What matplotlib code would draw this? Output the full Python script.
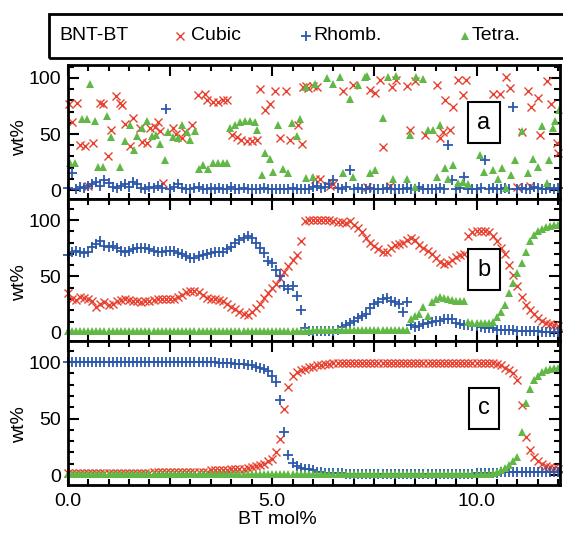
import numpy as np
import matplotlib
matplotlib.use("Agg")
import matplotlib.pyplot as plt
from matplotlib.ticker import MultipleLocator, FuncFormatter
from matplotlib.patches import Rectangle
from matplotlib.lines import Line2D

plt.rcParams['font.family'] = ['Liberation Sans', 'DejaVu Sans']

# ---------------- data ----------------
# composition grid (BT mol%) of the dense series
bt_mol = np.round(np.arange(121) * 0.1, 1)

# panel a : scattered refinement results
cubic_a_x = [0.02, 0.10, 0.22, 0.30, 0.42, 0.50, 0.63, 0.79, 0.87, 0.99,
             1.07, 1.18, 1.28, 1.32, 1.40, 1.52, 1.60, 1.77, 1.81, 1.93,
             2.01, 2.13, 2.22, 2.26, 2.34, 2.58, 2.66, 2.79, 2.87, 3.03,
             3.19, 3.36, 3.40, 3.56, 3.68, 3.80, 3.89, 4.01, 4.13, 4.25,
             4.38, 4.50, 4.62, 4.70, 4.82, 4.95, 5.07, 5.19, 5.35, 5.44,
             5.64, 5.72, 5.76, 5.84, 5.88, 6.00, 6.05, 6.09, 6.17, 6.41,
             6.50, 6.74, 6.98, 7.31, 7.39, 7.51, 7.64, 7.72, 7.88, 7.92,
             8.04, 8.29, 8.37, 8.49, 8.74, 9.02, 9.10, 9.18, 9.23, 9.35,
             9.43, 9.55, 9.67, 9.75, 10.41, 10.57, 10.73, 10.81, 10.98, 11.10,
             11.26, 11.30, 11.34, 11.51, 11.55, 11.71, 11.83, 11.96, 12.00]
cubic_a_y = [77, 61, 78, 40, 39, 4, 42, 78, 77, 30,
             54, 84, 78, 76, 59, 39, 64, 55, 43, 42,
             55, 56, 61, 53, 6, 55, 50, 46, 52, 58,
             85, 86, 80, 79, 79, 80, 80, 49, 47, 45,
             44, 44, 45, 90, 71, 77, 88, 46, 88, 45,
             58, 41, 92, 93, 91, 93, 10, 92, 10, 4,
             5, 88, 94, 3, 89, 87, 98, 38, 4, 92,
             98, 93, 54, 97, 49, 94, 46, 52, 80, 54,
             74, 98, 85, 98, 86, 86, 101, 91, 3, 52,
             88, 4, 74, 82, 49, 97, 77, 42, 33]
rhomb_a = [2, 15, 1, 3, 2, 4, 5, 7, 4, 9,
           6, 3, 2, 4, 5, 3, 7, 5, 2, 1,
           3, 2, 4, 2, 72, 1, 3, 5, 2, 1,
           1, 2, 3, 1, 1, 2, 1, 2, 1, 1,
           3, 1, 1, 2, 1, 1, 1, 1, 2, 1,
           1, 1, 1, 1, 1, 2, 1, 1, 1, 1,
           3, 4, 2, 3, 5, 9, 2, 1, 3, 18,
           1, 2, 1, 1, 2, 1, 1, 1, 2, 1,
           1, 1, 1, 2, 1, 1, 3, 1, 1, 1,
           1, 2, 1, 40, 9, 1, 2, 12, 1, 1,
           1, 2, 27, 1, 2, 1, 1, 2, 1, 74,
           1, 2, 1, 1, 3, 2, 1, 1, 2, 1,
           2]
tetra_a_x = [0.06, 0.18, 0.34, 0.46, 0.55, 0.67, 0.75, 0.87, 0.97, 1.07,
             1.28, 1.40, 1.52, 1.62, 1.69, 1.81, 1.95, 2.05, 2.17, 2.26,
             2.38, 2.46, 2.58, 2.70, 2.79, 2.91, 2.99, 3.11, 3.22, 3.32,
             3.44, 3.56, 3.68, 3.80, 3.89, 3.97, 4.09, 4.21, 4.33, 4.46,
             4.58, 4.62, 4.74, 4.82, 4.95, 5.03, 5.15, 5.27, 5.39, 5.48,
             5.60, 5.68, 5.82, 5.84, 6.01, 6.05, 6.33, 6.50, 6.66, 6.74,
             6.90, 6.98, 7.11, 7.27, 7.33, 7.39, 7.51, 7.72, 7.84, 7.96,
             8.04, 8.29, 8.37, 8.49, 8.53, 8.70, 8.82, 8.94, 9.02, 9.10,
             9.23, 9.31, 9.43, 9.55, 9.67, 9.80, 10.08, 10.18, 10.41, 10.53,
             10.61, 10.73, 10.83, 10.94, 11.10, 11.26, 11.38, 11.49, 11.59, 11.71,
             11.78, 11.87, 11.92, 12.02]
tetra_a_y = [24, 24, 63, 63, 95, 62, 21, 21, 66, 47,
             21, 44, 58, 36, 48, 55, 62, 48, 49, 41,
             27, 52, 47, 46, 58, 52, 45, 53, 19, 22,
             19, 24, 24, 24, 24, 55, 58, 61, 62, 62,
             61, 54, 13, 33, 28, 16, 58, 19, 15, 60,
             48, 63, 11, 92, 12, 95, 100, 95, 101, 15,
             81, 12, 94, 101, 102, 15, 18, 64, 101, 10,
             102, 10, 49, 3, 101, 99, 54, 54, 12, 58,
             20, 10, 22, 6, 7, 5, 31, 16, 18, 10,
             20, 2, 13, 27, 53, 15, 28, 21, 57, 6,
             27, 55, 62, 71]

# panel b
cubic_b = [35, 30, 29, 32, 31, 30, 28, 23, 26, 27,
           25, 26, 28, 29, 30, 29, 28, 28, 27, 28,
           28, 29, 30, 30, 30, 30, 30, 32, 34, 36,
           37, 37, 36, 34, 31, 30, 30, 29, 28, 26,
           23, 21, 19, 17, 16, 19, 22, 26, 31, 35,
           40, 43, 49, 54, 59, 65, 69, 81, 99, 100,
           100, 100, 100, 100, 100, 99, 98, 98, 97, 99,
           96, 93, 89, 84, 80, 77, 74, 72, 72, 75,
           78, 79, 80, 82, 84, 82, 78, 75, 73, 70,
           66, 63, 61, 62, 65, 67, 69, 70, 86, 89,
           90, 90, 90, 89, 86, 81, 75, 70, 60, 51,
           42, 32, 25, 20, 17, 13, 11, 9, 8, 7,
           6]
rhomb_b = [69, 72, 73, 72, 71, 72, 76, 79, 81, 77,
           76, 77, 75, 73, 72, 73, 74, 75, 75, 75,
           74, 73, 72, 72, 73, 73, 73, 71, 70, 68,
           66, 66, 68, 69, 70, 71, 72, 72, 72, 74,
           76, 80, 82, 84, 86, 84, 80, 75, 71, 64,
           62, 56, 50, 42, 39, 42, 33, 20, 4, 2,
           2, 2, 2, 2, 2, 2, 3, 5, 7, 9,
           11, 13, 15, 17, 22, 26, 27, 30, 31, 28,
           27, 26, 19, 27, 7, 5, 6, 8, 9, 10,
           11, 11, 12, 12, 12, 9, 8, 7, 7, 6,
           6, 5, 4, 4, 4, 3, 3, 3, 3, 3,
           2, 2, 2, 2, 2, 2, 1, 1, 1, 1,
           1]
tetra_b = [2, 2, 2, 2, 2, 2, 2, 2, 2, 2,
           2, 2, 2, 2, 2, 2, 2, 2, 2, 2,
           2, 2, 2, 2, 2, 2, 2, 2, 2, 2,
           2, 2, 2, 2, 2, 2, 2, 2, 2, 2,
           2, 2, 2, 2, 2, 2, 2, 2, 2, 2,
           2, 2, 2, 2, 2, 2, 2, 2, 2, 2,
           3, 3, 3, 3, 3, 3, 3, 3, 3, 3,
           3, 3, 3, 3, 3, 3, 3, 3, 3, 3,
           3, 3, 3, 3, 12, 15, 17, 23, 15, 27,
           30, 32, 31, 30, 29, 28, 28, 28, 10, 9,
           9, 9, 9, 9, 10, 14, 19, 25, 35, 44,
           53, 62, 72, 81, 87, 90, 92, 94, 95, 96,
           96]

# panel c
cubic_c = [2, 2, 2, 2, 2, 2, 2, 2, 2, 2,
           2, 2, 2, 2, 2, 2, 2, 2, 2, 2,
           2, 3, 3, 3, 3, 3, 3, 3, 3, 3,
           3, 3, 3, 3, 3, 4, 4, 4, 4, 4,
           5, 5, 5, 5, 6, 7, 8, 9, 10, 12,
           14, 20, 32, 58, 78, 88, 91, 93, 94, 96,
           96, 97, 97, 98, 98, 99, 99, 99, 99, 99,
           99, 99, 99, 99, 99, 99, 99, 99, 99, 99,
           99, 99, 99, 99, 99, 99, 99, 99, 99, 99,
           99, 99, 99, 99, 99, 99, 99, 99, 99, 99,
           99, 99, 99, 99, 99, 98, 97, 95, 93, 90,
           84, 62, 34, 22, 16, 12, 10, 8, 7, 6,
           5]
rhomb_c = [100, 100, 100, 100, 100, 100, 100, 100, 100, 100,
           100, 100, 100, 100, 100, 100, 100, 100, 100, 100,
           100, 100, 100, 100, 100, 100, 100, 100, 100, 100,
           100, 100, 100, 100, 100, 100, 100, 99, 99, 99,
           99, 98, 98, 98, 97, 97, 96, 95, 94, 92,
           88, 82, 66, 38, 18, 11, 8, 6, 5, 5,
           4, 3, 3, 2, 2, 2, 2, 2, 1, 1,
           1, 1, 1, 1, 1, 1, 1, 1, 1, 1,
           1, 1, 1, 1, 1, 1, 1, 1, 1, 1,
           1, 1, 1, 1, 1, 1, 1, 1, 1, 1,
           2, 2, 2, 2, 2, 2, 3, 3, 3, 3,
           3, 3, 3, 3, 3, 3, 3, 3, 3, 3,
           3]
tetra_c = [1, 1, 1, 1, 1, 1, 1, 1, 1, 1,
           1, 1, 1, 1, 1, 1, 1, 1, 1, 1,
           1, 1, 1, 1, 1, 1, 1, 1, 1, 1,
           1, 1, 1, 1, 1, 1, 1, 1, 1, 1,
           1, 1, 1, 1, 1, 1, 1, 1, 1, 1,
           1, 1, 1, 1, 1, 1, 1, 1, 1, 1,
           1, 1, 1, 1, 1, 1, 1, 1, 1, 1,
           1, 1, 1, 1, 1, 1, 1, 1, 1, 1,
           1, 1, 1, 1, 1, 1, 1, 1, 1, 1,
           1, 1, 1, 1, 1, 1, 1, 1, 1, 1,
           1, 1, 1, 1, 2, 3, 4, 6, 9, 12,
           16, 38, 64, 76, 84, 88, 91, 93, 94, 95,
           95]

panel_labels = ['a', 'b', 'c']
x_tick_text = {0.0: '0.0', 5.0: '5.0', 10.0: '10.0'}
legend_title = 'BNT-BT'
phase_names = ['Cubic', 'Rhomb.', 'Tetra.']
x_label = 'BT mol%'
y_label = 'wt%'

# ---------------- style ----------------
RED = '#e8412f'
BLUE = '#2c58ab'
GREEN = '#61b847'
W, H = 563, 534

fig = plt.figure(figsize=(W / 100, H / 100), dpi=100)
ax_left, ax_right = 67.7, 560.0
# (top, bottom) of each panel in pixels and the y-range shown
panels_px = [(65, 199), (199, 341), (341, 485)]
ylims = [(-8.0, 111.6), (-7.1, 118.6), (-8.85, 118.6)]
label_y = [0.455, 0.415, 0.417]
axes = [fig.add_axes([ax_left / W, 1 - b / H, (ax_right - ax_left) / W, (b - t) / H])
        for t, b in panels_px]

red_kw = dict(ls='none', marker='x', ms=5.5, mew=1.0, color=RED, clip_on=False, zorder=3)
blue_kw = dict(ls='none', marker='+', ms=6.5, mew=1.3, color=BLUE, clip_on=False, zorder=4)
green_kw = dict(ls='none', marker='^', ms=5.5, mew=0, color=GREEN, clip_on=False, zorder=5)

series = [
    ((cubic_a_x, cubic_a_y), (bt_mol, rhomb_a), (tetra_a_x, tetra_a_y)),
    ((bt_mol, cubic_b), (bt_mol, rhomb_b), (bt_mol, tetra_b)),
    ((bt_mol, cubic_c), (bt_mol, rhomb_c), (bt_mol, tetra_c)),
]


def xfmt(v, pos):
    for k, s in x_tick_text.items():
        if abs(v - k) < 1e-6:
            return s
    return ''


for k, ax in enumerate(axes):
    (cx, cy), (rx, ry), (tx, ty) = series[k]
    ax.plot(cx, cy, **red_kw)
    ax.plot(rx, ry, **blue_kw)
    ax.plot(tx, ty, **green_kw)

    ax.set_xlim(0, 12.04)
    ax.set_ylim(*ylims[k])
    for s in ax.spines.values():
        s.set_linewidth(2.0)
        s.set_zorder(6)
    ax.xaxis.set_major_locator(MultipleLocator(2.5))
    ax.xaxis.set_minor_locator(MultipleLocator(0.5))
    ax.yaxis.set_major_locator(MultipleLocator(50))
    ax.yaxis.set_minor_locator(MultipleLocator(10))
    ax.tick_params(which='both', direction='in', top=True, right=True,
                   width=1.5, labelsize=14)
    ax.tick_params(which='major', length=8)
    ax.tick_params(which='minor', length=4.5)
    ax.tick_params(axis='x', pad=6)
    ax.tick_params(axis='y', pad=5)
    ax.yaxis.set_major_formatter(FuncFormatter(lambda v, p: f'{v:.0f}'))
    if k < 2:
        ax.tick_params(axis='x', labelbottom=False)
    else:
        ax.xaxis.set_major_formatter(FuncFormatter(xfmt))
        ax.set_xlabel(x_label, fontsize=14)
        ax.xaxis.set_label_coords(0.426, -0.18)
    ax.set_ylabel(y_label, fontsize=14)
    ax.yaxis.set_label_coords(-0.08, label_y[k])
    ax.text(10.18, [60, 56, 59][k], panel_labels[k], fontsize=17, ha='center', va='center',
            zorder=10, bbox=dict(boxstyle='square,pad=0.4', fc='white', ec='black', lw=1.5))

# legend strip
fig.add_artist(Rectangle((49 / W, 1 - 58 / H), 540 / W, 44 / H, transform=fig.transFigure,
                         fill=False, lw=2.0, ec='black'))
ly = 1 - 36 / H
fig.text(59 / W, ly, legend_title, fontsize=14, ha='left', va='center')
leg_items = [(180, 191, phase_names[0], red_kw),
             (306, 313, phase_names[1], blue_kw),
             (465, 472, phase_names[2], green_kw)]
for mx, tx0, lab, kw in leg_items:
    kw2 = {kk: vv for kk, vv in kw.items() if kk not in ('clip_on', 'zorder')}
    fig.add_artist(Line2D([mx / W], [ly], transform=fig.transFigure, **kw2))
    fig.text(tx0 / W, ly, lab, fontsize=14, ha='left', va='center')

fig.savefig('out.png', dpi=100)
